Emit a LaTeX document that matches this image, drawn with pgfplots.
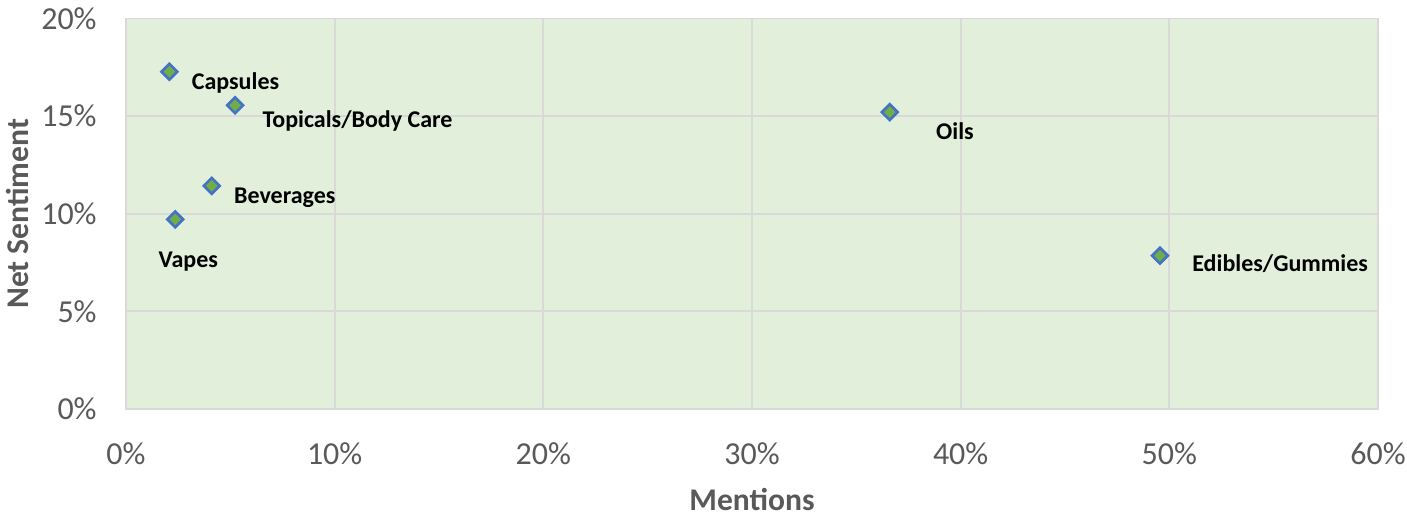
\documentclass[border=0pt]{standalone}
\usepackage{fontspec}
\setmainfont{Carlito}
\usepackage{pgfplots}
\pgfplotsset{compat=1.18}
\definecolor{bgg}{HTML}{E2EFDA}
\definecolor{gridc}{HTML}{D9D9D9}
\definecolor{tickc}{HTML}{595959}
\definecolor{mfill}{HTML}{70AD47}
\definecolor{mdraw}{HTML}{4472C4}
\begin{document}
\begin{tikzpicture}
\begin{axis}[
 scale only axis, width=626pt, height=195.3pt,
 xmin=0,xmax=60,ymin=0,ymax=20,
 xtick={0,10,...,60}, xticklabels={0\%,10\%,20\%,30\%,40\%,50\%,60\%},
 ytick={0,5,...,20}, yticklabels={0\%,5\%,10\%,15\%,20\%},
 grid=major, major grid style={gridc, line width=0.9pt},
 axis line style={gridc, line width=0.9pt},
 axis background/.style={fill=bgg},
 major tick length=0pt,
 tick label style={font=\fontsize{16}{19}\selectfont, text=tickc, inner sep=0pt},
 xticklabel style={anchor=center, yshift=-22.5pt},
 yticklabel style={anchor=east, xshift=-14.5pt},
 xlabel={Mentions}, ylabel={Net Sentiment},
 label style={font=\fontsize{15.8}{19}\selectfont\bfseries, text=tickc, inner sep=0pt},
 xlabel style={at={(axis description cs:0.5,0)}, anchor=center, yshift=-45pt},
 ylabel style={at={(axis description cs:0,0.5)}, anchor=center, rotate=0, yshift=54pt},
 clip=false,
]
\addplot[only marks, mark=square*, mark size=2.8pt,
  mark options={rotate=45, fill=mfill, draw=mdraw, line width=1.3pt}]
  coordinates {(2.08,17.27) (5.23,15.55) (4.11,11.43) (2.36,9.71) (36.6,15.2) (49.55,7.85)};
\begin{scope}[every node/.style={font=\fontsize{12}{14}\selectfont\bfseries, anchor=west, inner sep=0pt}]
\node[xshift=11pt, yshift=-5.5pt] at (axis cs:2.08,17.27) {Capsules};
\node[xshift=13.5pt, yshift=-8pt] at (axis cs:5.23,15.55) {Topicals/Body Care};
\node[xshift=11pt, yshift=-6pt] at (axis cs:4.11,11.43) {Beverages};
\node[xshift=-8.5pt, yshift=-21pt] at (axis cs:2.36,9.71) {Vapes};
\node[xshift=23pt, yshift=-9.5pt] at (axis cs:36.6,15.2) {Oils};
\node[xshift=16pt, yshift=-4pt] at (axis cs:49.55,7.85) {Edibles/Gummies};
\end{scope}
\coordinate (sw) at (rel axis cs:0,0);
\coordinate (ne) at (rel axis cs:1,1);
\end{axis}
\pgfresetboundingbox
\path[use as bounding box] ([shift={(-63pt,-55.5pt)}]sw) rectangle ([shift={(14.5pt,9.2pt)}]ne);
\end{tikzpicture}
\end{document}
